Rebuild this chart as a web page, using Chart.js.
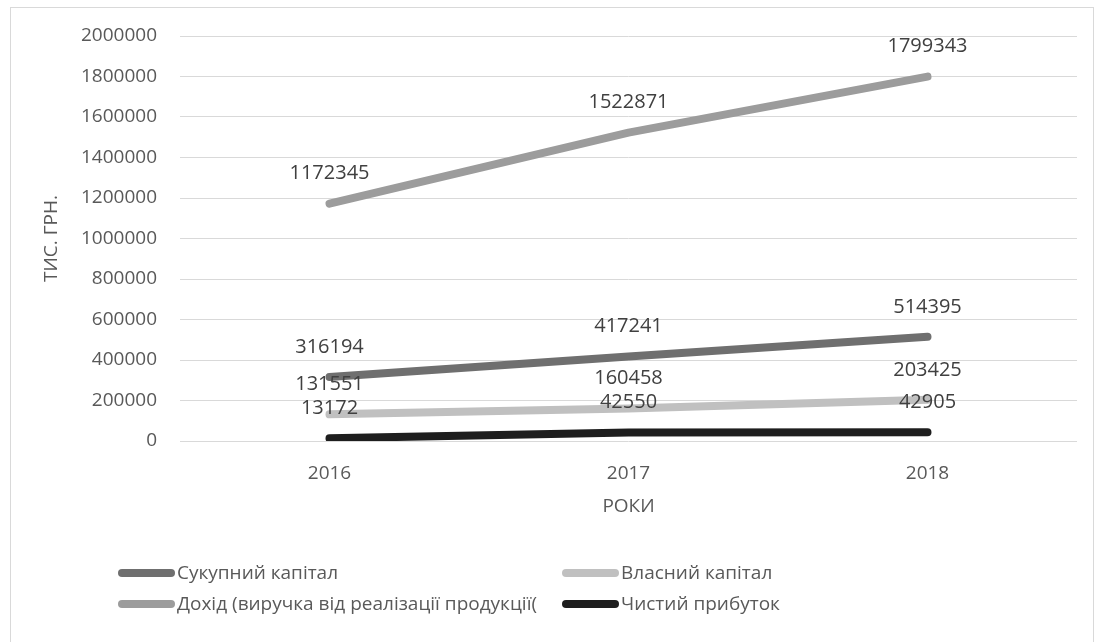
<!DOCTYPE html>
<html>
<head>
<meta charset="utf-8">
<script src="https://cdn.jsdelivr.net/npm/chart.js@4.4.0/dist/chart.umd.min.js"></script>
<style>
    body { margin: 0; background: #fff; overflow: hidden; font-family: "Open Sans", "Noto Sans", sans-serif; }
    #wrap { position: relative; width: 1103px; height: 642px; }
    #frame { position: absolute; left: 10px; top: 7px; width: 1082px; height: 650px; border: 1px solid #d9d9d9; }
    canvas { position: absolute; left: 0; top: 0; }
    .legend-item { position: absolute; height: 24px; line-height: 24px; font-size: 19px; color: #595959; white-space: nowrap; }
    .legend-item .swatch { display: inline-block; width: 57px; height: 8px; border-radius: 4px; vertical-align: middle; margin-right: 2px; position: relative; top: -1px; }
</style>
</head>
<body>
<div id="wrap">
    <div id="frame"></div>
    <canvas id="lineChart" width="1103" height="642"></canvas>
</div>
<script>
// Chart data
const years = ['2016', '2017', '2018'];
const totalCapital = [316194, 417241, 514395];
const ownCapital = [131551, 160458, 203425];
const revenue = [1172345, 1522871, 1799343];
const netProfit = [13172, 42550, 42905];

const seriesNames = ['Сукупний капітал', 'Власний капітал', 'Дохід (виручка від реалізації продукції(', 'Чистий прибуток'];
const seriesColors = ['#6f6f6f', '#c0c0c0', '#9c9c9c', '#1e1e1e'];

// Legend slots (2 columns x 2 rows)
const legendSlots = [[118, 560], [562, 560], [118, 591], [562, 591]];

const fontFamily = '"Open Sans", "Noto Sans", sans-serif';

// Plugin to write values above points
const valueLabels = {
    id: 'valueLabels',
    afterDatasetsDraw(chart) {
        const ctx = chart.ctx;
        ctx.save();
        ctx.font = '20px ' + fontFamily;
        ctx.fillStyle = '#404040';
        ctx.textAlign = 'center';
        ctx.textBaseline = 'middle';
        chart.data.datasets.forEach((ds, i) => {
            chart.getDatasetMeta(i).data.forEach((pt, j) => {
                ctx.fillText(String(ds.data[j]), pt.x, pt.y - 30);
            });
        });
        ctx.restore();
    }
};

function makeDataset(label, data, color) {
    return {
        label: label,
        data: data,
        borderColor: color,
        backgroundColor: color,
        borderWidth: 8,
        borderCapStyle: 'round',
        borderJoinStyle: 'round',
        pointRadius: 0,
        tension: 0
    };
}

const ctx = document.getElementById('lineChart').getContext('2d');
const chart = new Chart(ctx, {
    type: 'line',
    data: {
        labels: years,
        datasets: [
            makeDataset(seriesNames[0], totalCapital, seriesColors[0]),
            makeDataset(seriesNames[1], ownCapital, seriesColors[1]),
            makeDataset(seriesNames[2], revenue, seriesColors[2]),
            makeDataset(seriesNames[3], netProfit, seriesColors[3])
        ]
    },
    options: {
        responsive: false,
        animation: false,
        layout: {
            padding: { left: 0, top: 36, right: 26, bottom: 121 }
        },
        scales: {
            x: {
                offset: true,
                grid: { display: false },
                border: { display: false },
                ticks: {
                    padding: 13,
                    color: '#595959',
                    font: { family: fontFamily, size: 19 }
                },
                title: {
                    display: true,
                    text: 'РОКИ',
                    color: '#595959',
                    padding: { top: 0, bottom: 3 },
                    font: { family: fontFamily, size: 19 }
                },
                afterFit: scale => { scale.height = 80; }
            },
            y: {
                min: 0,
                max: 2000000,
                grid: { color: '#d9d9d9', lineWidth: 1, drawTicks: false },
                border: { display: false },
                ticks: {
                    stepSize: 200000,
                    padding: 23,
                    color: '#595959',
                    font: { family: fontFamily, size: 19 },
                    callback: value => String(value)
                },
                title: {
                    display: true,
                    text: 'ТИС. ГРН.',
                    color: '#595959',
                    padding: { top: 40, bottom: 0 },
                    font: { family: fontFamily, size: 19 }
                },
                afterFit: scale => { scale.width = 180; }
            }
        },
        plugins: {
            legend: { display: false },
            tooltip: { enabled: false }
        }
    },
    plugins: [valueLabels]
});

// HTML legend built from the datasets
const wrap = document.getElementById('wrap');
chart.data.datasets.forEach((ds, i) => {
    const item = document.createElement('div');
    item.className = 'legend-item';
    item.style.left = legendSlots[i][0] + 'px';
    item.style.top = legendSlots[i][1] + 'px';
    const swatch = document.createElement('span');
    swatch.className = 'swatch';
    swatch.style.background = ds.borderColor;
    item.appendChild(swatch);
    item.appendChild(document.createTextNode(ds.label));
    wrap.appendChild(item);
});
</script>
</body>
</html>
